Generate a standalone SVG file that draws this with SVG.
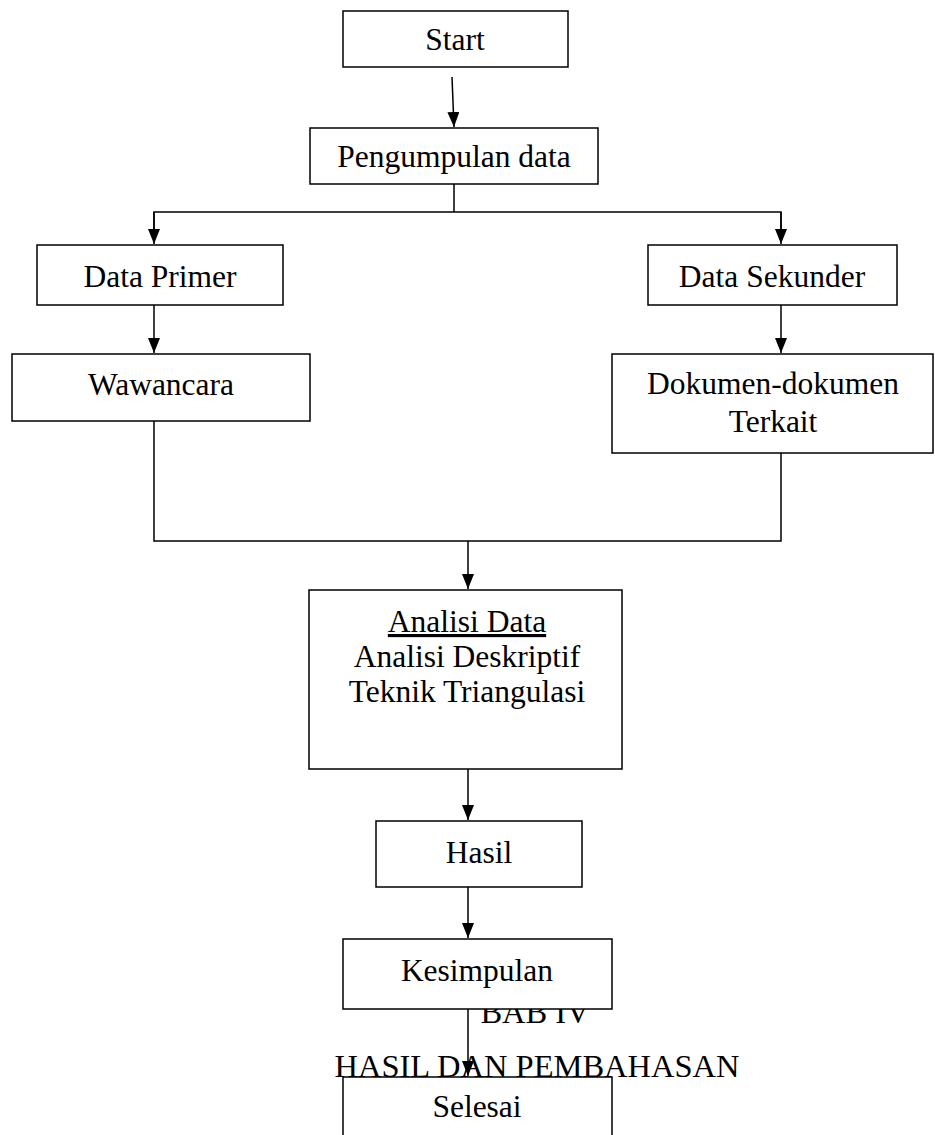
<svg xmlns="http://www.w3.org/2000/svg" width="935" height="1135" viewBox="0 0 935 1135">
<style>
text{font-family:"Liberation Serif","Times New Roman",serif;font-size:31.5px;fill:#000;text-anchor:middle}
.head{font-size:32.5px}
.box{fill:#fff;stroke:#000;stroke-width:1.5}
.ln{fill:none;stroke:#000;stroke-width:1.5}
</style>
<defs>
<marker id="ah2" viewBox="0 0 15 12" refX="15" refY="6" markerWidth="15" markerHeight="12" markerUnits="userSpaceOnUse" orient="auto">
<path d="M0,0 L15,6 L0,12 Z" fill="#000"/>
</marker>
</defs>
<g id="heading">
<text class="head" x="535" y="1023">BAB IV</text>
<text class="head" x="537" y="1077">HASIL DAN PEMBAHASAN</text>
</g>
<g id="start"><rect class="box" x="343" y="11" width="225" height="56"/><text x="455" y="50">Start</text></g>
<g id="pengumpulan"><rect class="box" x="310" y="128" width="288" height="56"/><text x="454" y="167">Pengumpulan data</text></g>
<g id="primer"><rect class="box" x="37" y="245" width="246" height="60"/><text x="160" y="287">Data Primer</text></g>
<g id="sekunder"><rect class="box" x="648" y="245" width="249" height="60"/><text x="772" y="287">Data Sekunder</text></g>
<g id="wawancara"><rect class="box" x="12" y="354" width="298" height="67"/><text x="161" y="395">Wawancara</text></g>
<g id="dokumen"><rect class="box" x="612" y="354" width="321" height="99"/><text x="773" y="394">Dokumen-dokumen</text><text x="773" y="432">Terkait</text></g>
<g id="analisi"><rect class="box" x="309" y="590" width="313" height="179"/><text x="467" y="632" text-decoration="underline">Analisi Data</text><text x="467" y="667">Analisi Deskriptif</text><text x="467" y="702">Teknik Triangulasi</text></g>
<g id="hasil"><rect class="box" x="376" y="821" width="206" height="66"/><text x="479" y="863">Hasil</text></g>
<g id="kesimpulan"><rect class="box" x="343" y="939" width="269" height="70"/><text x="477" y="981">Kesimpulan</text></g>
<g id="selesai"><rect class="box" x="343" y="1077" width="269" height="80"/><text x="477" y="1117">Selesai</text></g>
<g id="connectors">
<line class="ln" x1="452" y1="77" x2="454" y2="127" marker-end="url(#ah2)"/>
<polyline class="ln" points="454,184 454,212"/>
<polyline class="ln" points="154,230 154,212 781,212 781,230"/>
<line class="ln" x1="154" y1="212" x2="154" y2="244" marker-end="url(#ah2)"/>
<line class="ln" x1="781" y1="212" x2="781" y2="244" marker-end="url(#ah2)"/>
<line class="ln" x1="154" y1="305" x2="154" y2="353" marker-end="url(#ah2)"/>
<line class="ln" x1="781" y1="305" x2="781" y2="353" marker-end="url(#ah2)"/>
<polyline class="ln" points="154,421 154,541 781,541 781,453"/>
<line class="ln" x1="468" y1="541" x2="468" y2="589" marker-end="url(#ah2)"/>
<line class="ln" x1="468" y1="769" x2="468" y2="820" marker-end="url(#ah2)"/>
<line class="ln" x1="468" y1="887" x2="468" y2="938" marker-end="url(#ah2)"/>
<line class="ln" x1="468" y1="1009" x2="468" y2="1076" marker-end="url(#ah2)"/>
</g>
</svg>
